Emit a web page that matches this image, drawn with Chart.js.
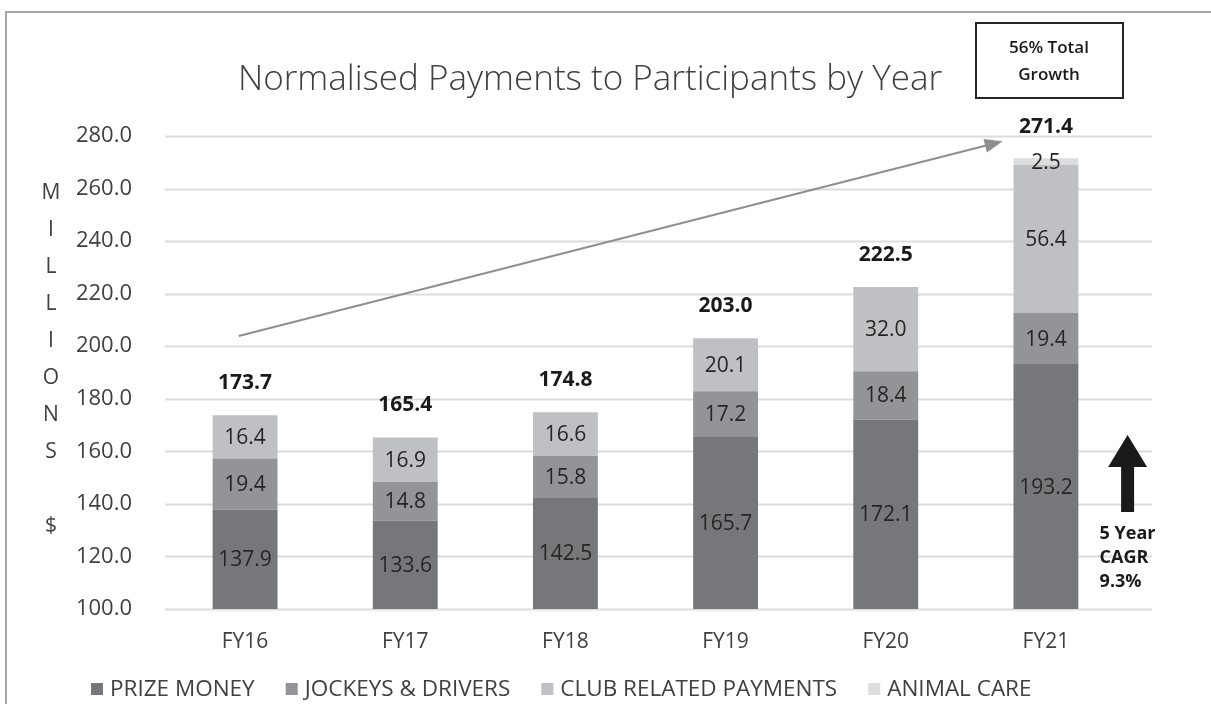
<!DOCTYPE html>
<html>
<head>
<meta charset="utf-8">
<title>Normalised Payments to Participants by Year</title>
<script src="https://cdn.jsdelivr.net/npm/chart.js@4.4.1/dist/chart.umd.min.js"></script>
<style>
  html, body { margin: 0; padding: 0; background: #fff; }
  #wrap { width: 1211px; height: 704px; position: relative; }
</style>
</head>
<body>
<div id="wrap"><canvas id="paymentsChart" width="1211" height="704"></canvas></div>
<script>
// values ($ millions)
const years = ['FY16', 'FY17', 'FY18', 'FY19', 'FY20', 'FY21'];
const prizeMoney = [137.9, 133.6, 142.5, 165.7, 172.1, 193.2];
const jockeysDrivers = [19.4, 14.8, 15.8, 17.2, 18.4, 19.4];
const clubPayments = [16.4, 16.9, 16.6, 20.1, 32.0, 56.4];
const animalCare = [0, 0, 0, 0, 0, 2.5];
const totals = [173.7, 165.4, 174.8, 203.0, 222.5, 271.4];
const yMin = 100, yMax = 280, yStep = 20;
const yAxisLetters = ['M', 'I', 'L', 'L', 'I', 'O', 'N', 'S', '', '$'];

const FONT = '"Open Sans", "DejaVu Sans", sans-serif';
const TEXT = '#404040';

function textAt(ctx, str, x, y, font, color, align) {
    ctx.font = font;
    ctx.fillStyle = color;
    ctx.textAlign = align || 'center';
    ctx.textBaseline = 'middle';
    ctx.fillText(str, x, y);
}

const decorations = {
    id: 'decorations',
    beforeDraw(chart) {
        const ctx = chart.ctx;
        const area = chart.chartArea;
        const yScale = chart.scales.y;
        ctx.save();
        // outer frame (left + top)
        ctx.strokeStyle = '#a6a6a6';
        ctx.lineWidth = 2;
        ctx.beginPath();
        ctx.moveTo(6, chart.height);
        ctx.lineTo(6, 12);
        ctx.lineTo(chart.width, 12);
        ctx.stroke();
        // gridlines run a bit past the last bar
        ctx.strokeStyle = '#dcdcdc';
        ctx.lineWidth = 2;
        for (let v = yMin; v <= yMax; v += yStep) {
            const y = Math.round(yScale.getPixelForValue(v)) + 0.5;
            ctx.beginPath();
            ctx.moveTo(area.left, y);
            ctx.lineTo(area.right + 26, y);
            ctx.stroke();
        }
        ctx.restore();
    },
    afterDatasetsDraw(chart) {
        const ctx = chart.ctx;
        const area = chart.chartArea;
        const xScale = chart.scales.x;
        const yScale = chart.scales.y;
        ctx.save();

        // values inside the segments
        chart.data.datasets.forEach((ds, i) => {
            chart.getDatasetMeta(i).data.forEach((bar, j) => {
                const v = ds.data[j];
                if (!v) return;
                const bottom = Math.min(bar.base, area.bottom);
                textAt(ctx, v.toFixed(1), bar.x, (bar.y + bottom) / 2 + 1, '21px ' + FONT, '#262626');
            });
        });

        // totals above bars
        totals.forEach((t, j) => {
            const x = xScale.getPixelForValue(j);
            const y = yScale.getPixelForValue(t) - 32;
            textAt(ctx, t.toFixed(1), x, y, 'bold 21px ' + FONT, '#1a1a1a');
        });

        // trend arrow FY16 -> FY21
        const x0 = xScale.getPixelForValue(-0.04), y0 = yScale.getPixelForValue(203.9);
        const x1 = xScale.getPixelForValue(4.73), y1 = yScale.getPixelForValue(278.0);
        const ang = Math.atan2(y1 - y0, x1 - x0);
        ctx.strokeStyle = '#8f8f8f';
        ctx.fillStyle = '#8f8f8f';
        ctx.lineWidth = 2;
        ctx.beginPath();
        ctx.moveTo(x0, y0);
        ctx.lineTo(x1 - 14 * Math.cos(ang), y1 - 14 * Math.sin(ang));
        ctx.stroke();
        ctx.beginPath();
        ctx.moveTo(x1, y1);
        ctx.lineTo(x1 - 18 * Math.cos(ang) + 7 * Math.sin(ang), y1 - 18 * Math.sin(ang) - 7 * Math.cos(ang));
        ctx.lineTo(x1 - 18 * Math.cos(ang) - 7 * Math.sin(ang), y1 - 18 * Math.sin(ang) + 7 * Math.cos(ang));
        ctx.closePath();
        ctx.fill();

        // black CAGR arrow
        const ax = xScale.getPixelForValue(5.51);
        const tip = yScale.getPixelForValue(166.2);
        const headBase = yScale.getPixelForValue(154.0);
        const tail = yScale.getPixelForValue(136.9);
        ctx.fillStyle = '#1a1a1a';
        ctx.beginPath();
        ctx.moveTo(ax, tip);
        ctx.lineTo(ax + 19.5, headBase);
        ctx.lineTo(ax + 6.5, headBase);
        ctx.lineTo(ax + 6.5, tail);
        ctx.lineTo(ax - 6.5, tail);
        ctx.lineTo(ax - 6.5, headBase);
        ctx.lineTo(ax - 19.5, headBase);
        ctx.closePath();
        ctx.fill();
        ['5 Year', 'CAGR', '9.3%'].forEach((s, k) => {
            textAt(ctx, s, ax - 28, tail + 22 + k * 24, 'bold 18px ' + FONT, '#1a1a1a', 'left');
        });

        ctx.restore();
    },
    afterDraw(chart) {
        const ctx = chart.ctx;
        ctx.save();

        // title
        textAt(ctx, 'Normalised Payments to Participants by Year', 590, 80, '300 35px ' + FONT, TEXT);

        // growth box
        ctx.strokeStyle = '#262626';
        ctx.lineWidth = 2;
        ctx.strokeRect(976, 23, 147, 75);
        textAt(ctx, '56% Total', 1049, 48, '600 17px ' + FONT, '#1a1a1a');
        textAt(ctx, 'Growth', 1049, 75, '600 17px ' + FONT, '#1a1a1a');

        // stacked y-axis title
        yAxisLetters.forEach((ch, k) => {
            if (ch) textAt(ctx, ch, 51, 193 + k * 37, '21px ' + FONT, TEXT);
        });

        // legend
        let lx = 91;
        const ly = 689;
        const lfont = '22.5px ' + FONT;
        chart.data.datasets.forEach(ds => {
            ctx.fillStyle = ds.backgroundColor;
            ctx.fillRect(lx, ly - 6, 12, 12);
            const label = ds.label.toUpperCase();
            textAt(ctx, label, lx + 19, ly + 1, lfont, TEXT, 'left');
            lx += 19 + ctx.measureText(label).width + 31;
        });

        ctx.restore();
    }
};

const ctx = document.getElementById('paymentsChart').getContext('2d');
new Chart(ctx, {
    type: 'bar',
    data: {
        labels: years,
        datasets: [
            { label: 'Prize Money', data: prizeMoney, backgroundColor: '#76777b' },
            { label: 'Jockeys & Drivers', data: jockeysDrivers, backgroundColor: '#939498' },
            { label: 'Club Related Payments', data: clubPayments, backgroundColor: '#bfc0c4' },
            { label: 'Animal Care', data: animalCare, backgroundColor: '#dcdddf' }
        ]
    },
    options: {
        responsive: false,
        devicePixelRatio: 1,
        animation: false,
        datasets: {
            bar: { barPercentage: 0.405, categoryPercentage: 1.0, borderWidth: 0 }
        },
        layout: { padding: { left: 0, right: 85, top: 136, bottom: 35 } },
        plugins: {
            legend: { display: false },
            title: { display: false },
            tooltip: { enabled: false }
        },
        scales: {
            x: {
                stacked: true,
                grid: { display: false },
                border: { display: false },
                ticks: { color: TEXT, font: { family: FONT, size: 21 }, padding: 12 },
                afterFit: s => { s.height = 60; }
            },
            y: {
                stacked: true,
                min: yMin,
                max: yMax,
                grid: { display: false },
                border: { display: false },
                ticks: {
                    stepSize: yStep,
                    color: TEXT,
                    font: { family: FONT, size: 22 },
                    padding: 25,
                    callback: v => v.toFixed(1)
                },
                afterFit: s => { s.width = 165; }
            }
        }
    },
    plugins: [decorations]
});
</script>
</body>
</html>
